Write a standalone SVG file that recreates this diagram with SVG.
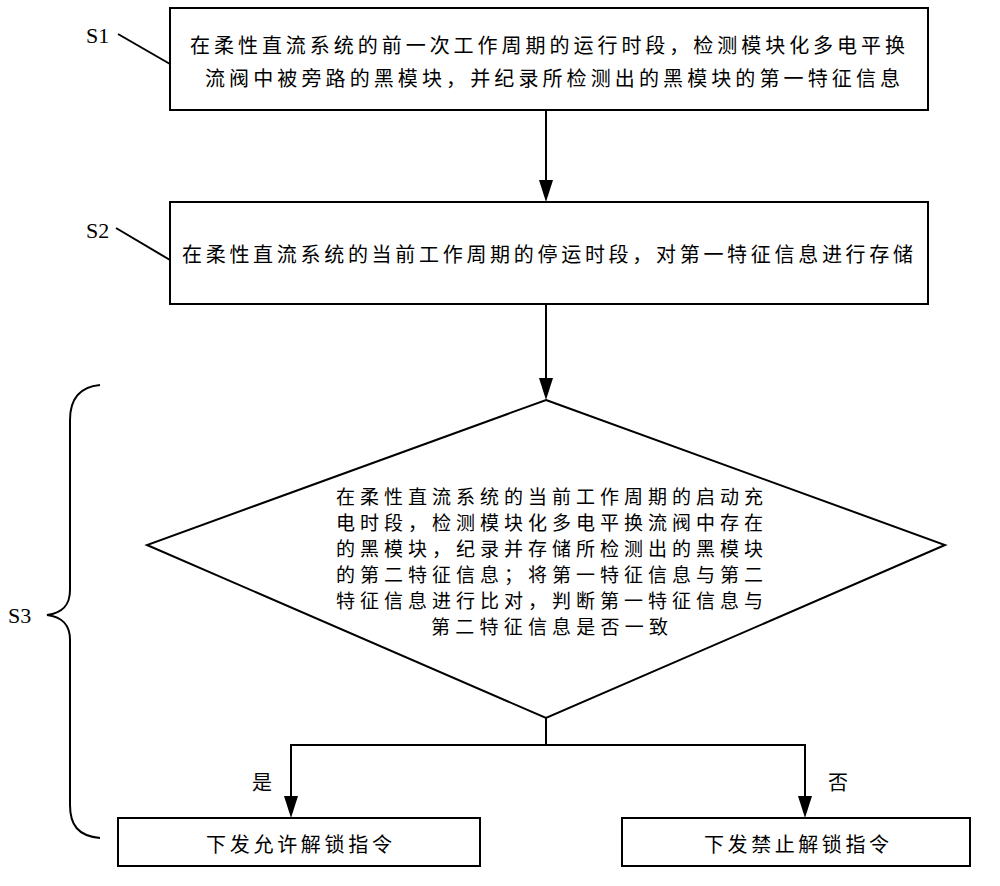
<svg xmlns="http://www.w3.org/2000/svg" width="1000" height="886" viewBox="0 0 1000 886">
<style>
.box{fill:#fff;stroke:#000;stroke-width:2}
.ln{fill:none;stroke:#000;stroke-width:2}
.t{font-family:"Noto Sans CJK SC",sans-serif;font-size:20px;fill:#000}
.d{font-size:19px}
.lbl{font-family:"Liberation Serif",serif;font-size:22px;fill:#000}
</style>
<rect width="1000" height="886" fill="#fff"/>
<g id="connectors">
<line class="ln" x1="546" y1="110" x2="546" y2="182"/>
<path d="M539,180 L553,180 L546,202 Z" fill="#000"/>
<line class="ln" x1="546" y1="304" x2="546" y2="380"/>
<path d="M539,378 L553,378 L546,400 Z" fill="#000"/>
<polyline class="ln" points="546,718 546,745"/>
<polyline class="ln" points="291,800 291,745 805,745 805,800"/>
<path d="M284,796 L298,796 L291,818 Z" fill="#000"/>
<path d="M798,796 L812,796 L805,818 Z" fill="#000"/>
<line class="ln" x1="118" y1="34" x2="170" y2="64"/>
<line class="ln" x1="116" y1="228" x2="170" y2="260"/>
<path class="ln" d="M100,385 C78,387 70,400 70,420 L70,590 C70,606 62,613 47,615 C62,617 70,624 70,640 L70,805 C70,825 78,836 100,838"/>
</g>
<g id="label-S1"><text class="lbl" x="86" y="43">S1</text></g>
<g id="label-S2"><text class="lbl" x="86" y="238">S2</text></g>
<g id="label-S3"><text class="lbl" x="8" y="623">S3</text></g>
<g id="node-s1">
<rect class="box" x="170" y="8" width="758" height="102"/>
<text class="t" x="190" y="53" textLength="715" lengthAdjust="spacing">在柔性直流系统的前一次工作周期的运行时段，检测模块化多电平换</text>
<text class="t" x="205" y="86" textLength="695" lengthAdjust="spacing">流阀中被旁路的黑模块，并纪录所检测出的黑模块的第一特征信息</text>
</g>
<g id="node-s2">
<rect class="box" x="170" y="202" width="758" height="102"/>
<text class="t" x="182" y="262" textLength="731" lengthAdjust="spacing">在柔性直流系统的当前工作周期的停运时段，对第一特征信息进行存储</text>
</g>
<g id="node-s3">
<polygon class="box" points="546,400 945,545 546,718 147,545"/>
<text class="t d" x="336" y="504" textLength="427" lengthAdjust="spacing">在柔性直流系统的当前工作周期的启动充</text>
<text class="t d" x="336" y="530" textLength="427" lengthAdjust="spacing">电时段，检测模块化多电平换流阀中存在</text>
<text class="t d" x="336" y="556" textLength="427" lengthAdjust="spacing">的黑模块，纪录并存储所检测出的黑模块</text>
<text class="t d" x="336" y="582" textLength="427" lengthAdjust="spacing">的第二特征信息；将第一特征信息与第二</text>
<text class="t d" x="336" y="608" textLength="427" lengthAdjust="spacing">特征信息进行比对，判断第一特征信息与</text>
<text class="t d" x="431" y="634" textLength="237" lengthAdjust="spacing">第二特征信息是否一致</text>
</g>
<g id="node-yes">
<rect class="box" x="118" y="818" width="362" height="48"/>
<text class="t" x="206" y="852" textLength="186" lengthAdjust="spacing">下发允许解锁指令</text>
</g>
<g id="node-no">
<rect class="box" x="622" y="818" width="348" height="48"/>
<text class="t" x="704" y="852" textLength="185" lengthAdjust="spacing">下发禁止解锁指令</text>
</g>
<g id="edge-labels">
<text class="t" x="252" y="790">是</text>
<text class="t" x="828" y="790">否</text>
</g>
</svg>
